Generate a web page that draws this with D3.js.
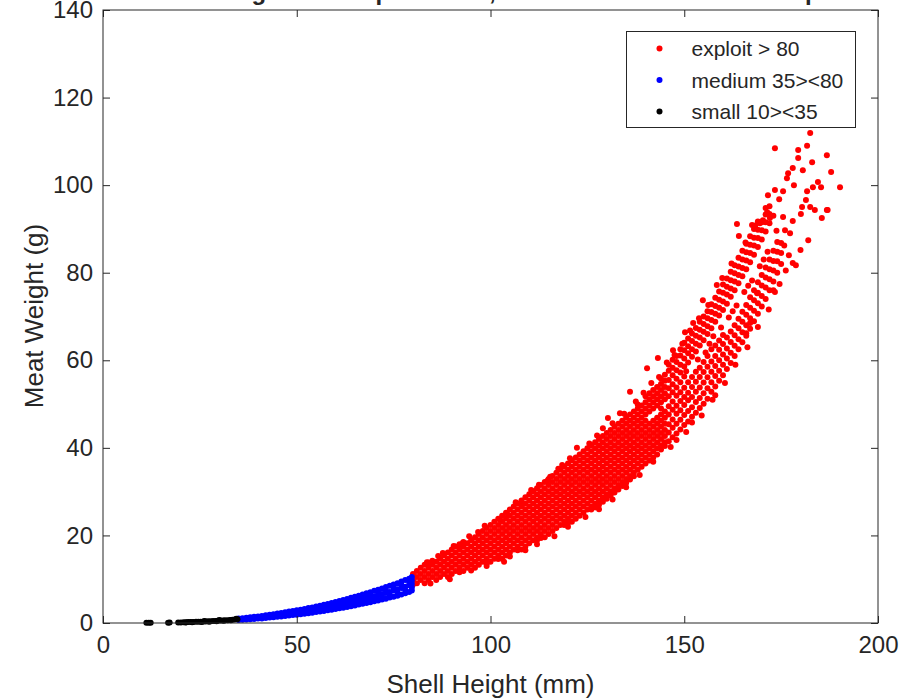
<!DOCTYPE html>
<html>
<head>
<meta charset="utf-8">
<script src="https://cdn.jsdelivr.net/npm/d3@7"></script>
<style>
  html, body { margin: 0; padding: 0; background: #fff; }
  svg { display: block; }
  text { font-family: "Liberation Sans", Arial, Helvetica, sans-serif; fill: #262626; }
</style>
</head>
<body>
<div id="chart"></div>
<script>
// axis ticks and labels
const xTicks = [0, 50, 100, 150, 200];
const yTicks = [0, 20, 40, 60, 80, 100, 120, 140];
const titleText = "Meat Weight of Sampled Shell, Classified into 3 Size Groups";
const xLabel = "Shell Height (mm)";
const yLabel = "Meat Weight (g)";
const legendLabels = ["exploit > 80", "medium 35><80", "small 10><35"];
const seriesColors = ["#ff0000", "#0000ff", "#000000"];

// small 10><35 : [shell height, meat weight]
const smallPts = [
  [11.2, 0.03], [11.8, 0.04], [12.3, 0.05], [16.8, 0.08], [17.2, 0.09], [19.4, 0.12],
  [20.1, 0.13], [20.8, 0.15], [21.3, 0.1], [21.5, 0.17], [22.0, 0.2], [22.6, 0.2],
  [23.0, 0.15], [23.3, 0.24], [24.0, 0.26], [24.6, 0.28], [25.2, 0.3], [25.5, 0.22],
  [25.9, 0.33], [26.2, 0.45], [26.5, 0.36], [27.1, 0.38], [27.4, 0.3], [27.8, 0.42],
  [28.4, 0.45], [29.0, 0.47], [29.3, 0.4], [29.6, 0.5], [30.0, 0.7], [30.3, 0.55],
  [30.9, 0.58], [31.2, 0.5], [31.5, 0.62], [32.2, 0.65], [32.8, 0.7], [33.0, 0.6],
  [33.4, 0.74], [34.0, 0.78], [34.4, 0.95], [34.7, 0.83]
];

// medium 35><80 : rows of [shell height, [meat weights]]
const mediumRows = [
  [35, [0.7, 1.0]], [36, [0.75, 1.1]], [37, [0.8, 1.2]], [38, [0.85, 1.3]],
  [39, [0.9, 1.4]], [40, [1.0, 1.5]], [41, [1.05, 1.6]], [42, [1.15, 1.75]],
  [43, [1.25, 1.9]], [44, [1.3, 2.0]], [45, [1.4, 2.15]], [46, [1.5, 2.3]],
  [47, [1.6, 2.45]], [48, [1.7, 2.6]], [49, [1.8, 2.2, 2.75]], [50, [1.9, 2.4, 2.9]],
  [51, [2.0, 2.5, 3.05]], [52, [2.1, 2.65, 3.2]], [53, [2.25, 2.8, 3.4]], [54, [2.35, 2.95, 3.55]],
  [55, [2.5, 3.1, 3.75]], [56, [2.6, 3.25, 3.95]], [57, [2.75, 3.45, 4.15]], [58, [2.9, 3.6, 4.35]],
  [59, [3.05, 3.8, 4.55]], [60, [3.2, 4.0, 4.8]], [61, [3.35, 4.15, 5.0]], [62, [3.5, 4.35, 5.25]],
  [63, [3.65, 4.55, 5.5]], [64, [3.85, 4.8, 5.75]], [65, [4.0, 5.0, 6.0]], [66, [4.2, 5.2, 6.25]],
  [67, [4.4, 5.45, 6.5]], [68, [4.55, 5.1, 5.65, 6.8]], [69, [4.75, 5.9, 6.4, 7.05]],
  [70, [4.95, 5.5, 6.1, 7.35]], [71, [5.15, 6.35, 6.9, 7.6]], [72, [5.35, 6.0, 6.6, 7.9]],
  [73, [5.55, 6.85, 7.5, 8.2]], [74, [5.8, 6.4, 7.1, 8.5]], [75, [6.0, 7.4, 8.1, 8.8]],
  [76, [6.25, 6.9, 7.7, 9.1]], [77, [6.5, 8.0, 8.7, 9.45]], [78, [6.8, 7.5, 8.3, 9.8]],
  [79, [7.1, 8.6, 9.4, 10.1]], [79.7, [7.4, 8.1, 8.9, 9.7, 10.5]]
];

// exploit > 80 : dense rows of [shell height, [meat weights]]
const exploitRows = [
  [80, [8.8, 9.8, 11.2]], [81, [9.1, 10.5, 11.9]], [82, [9.8, 11.2, 12.6]],
  [83, [9.1, 10.5, 11.9, 13.3]], [84, [9.8, 11.2, 12.6, 13.8]], [85, [10.5, 11.9, 13.3, 14.2]],
  [86, [9.8, 11.2, 12.6, 14.0]], [87, [10.5, 11.9, 13.3, 14.7]], [88, [11.2, 12.6, 14.0, 15.4]],
  [89, [10.5, 11.9, 13.3, 14.7, 16.1]], [90, [11.2, 12.6, 14.0, 15.4, 16.8]],
  [91, [11.9, 13.3, 14.7, 16.1, 17.5]], [92, [11.6, 12.6, 14.0, 15.4, 16.8, 18.0]],
  [93, [11.9, 13.3, 14.7, 16.1, 17.5, 18.5]], [94, [12.6, 14.0, 15.4, 16.8, 18.2]],
  [95, [13.3, 14.7, 16.1, 17.5, 18.9]], [96, [12.6, 14.0, 15.4, 16.8, 18.2, 19.6]],
  [97, [13.3, 14.7, 16.1, 17.5, 18.9, 20.3]], [98, [14.0, 15.4, 16.8, 18.2, 19.6, 21.0]],
  [99, [13.6, 14.7, 16.1, 17.5, 18.9, 20.3, 21.7]], [100, [14.0, 15.4, 16.8, 18.2, 19.6, 21.0, 22.4]],
  [101, [14.7, 16.1, 17.5, 18.9, 20.3, 21.7, 23.1]], [102, [14.6, 15.4, 16.8, 18.2, 19.6, 21.0, 22.4, 23.8]],
  [103, [14.7, 16.1, 17.5, 18.9, 20.3, 21.7, 23.1, 24.5]], [104, [15.4, 16.8, 18.2, 19.6, 21.0, 22.4, 23.8, 25.2]],
  [105, [16.1, 17.5, 18.9, 20.3, 21.7, 23.1, 24.5, 25.9]], [106, [16.8, 18.2, 19.6, 21.0, 22.4, 23.8, 25.2, 26.6]],
  [107, [16.6, 17.5, 18.9, 20.3, 21.7, 23.1, 24.5, 25.9, 27.3]],
  [108, [16.8, 18.2, 19.6, 21.0, 22.4, 23.8, 25.2, 26.6, 28.0]],
  [109, [17.5, 18.9, 20.3, 21.7, 23.1, 24.5, 25.9, 27.3, 28.7]],
  [110, [18.2, 19.6, 21.0, 22.4, 23.8, 25.2, 26.6, 28.0, 29.4]],
  [111, [18.9, 20.3, 21.7, 23.1, 24.5, 25.9, 27.3, 28.7, 30.1]],
  [112, [18.9, 19.6, 21.0, 22.4, 23.8, 25.2, 26.6, 28.0, 29.4, 30.8]],
  [113, [19.4, 20.3, 21.7, 23.1, 24.5, 25.9, 27.3, 28.7, 30.1, 31.5]],
  [114, [19.6, 21.0, 22.4, 23.8, 25.2, 26.6, 28.0, 29.4, 30.8, 32.2]],
  [115, [20.3, 21.7, 23.1, 24.5, 25.9, 27.3, 28.7, 30.1, 31.5, 32.9]],
  [116, [21.0, 22.4, 23.8, 25.2, 26.6, 28.0, 29.4, 30.8, 32.2, 33.6]],
  [117, [21.7, 23.1, 24.5, 25.9, 27.3, 28.7, 30.1, 31.5, 32.9, 34.3]],
  [118, [22.4, 23.8, 25.2, 26.6, 28.0, 29.4, 30.8, 32.2, 33.6, 35.0]],
  [119, [22.4, 23.1, 24.5, 25.9, 27.3, 28.7, 30.1, 31.5, 32.9, 34.3, 35.7]],
  [120, [22.9, 23.8, 25.2, 26.6, 28.0, 29.4, 30.8, 32.2, 33.6, 35.0, 36.4]],
  [121, [23.1, 24.5, 25.9, 27.3, 28.7, 30.1, 31.5, 32.9, 34.3, 35.7, 37.1]],
  [122, [23.8, 25.2, 26.6, 28.0, 29.4, 30.8, 32.2, 33.6, 35.0, 36.4, 37.8]],
  [123, [24.5, 25.9, 27.3, 28.7, 30.1, 31.5, 32.9, 34.3, 35.7, 37.1, 38.5]],
  [124, [25.2, 26.6, 28.0, 29.4, 30.8, 32.2, 33.6, 35.0, 36.4, 37.8, 39.2]],
  [125, [25.9, 27.3, 28.7, 30.1, 31.5, 32.9, 34.3, 35.7, 37.1, 38.5, 39.9]],
  [126, [25.9, 26.6, 28.0, 29.4, 30.8, 32.2, 33.6, 35.0, 36.4, 37.8, 39.2, 40.6]],
  [127, [26.4, 27.3, 28.7, 30.1, 31.5, 32.9, 34.3, 35.7, 37.1, 38.5, 39.9, 41.3]],
  [128, [27.0, 28.0, 29.4, 30.8, 32.2, 33.6, 35.0, 36.4, 37.8, 39.2, 40.6, 42.0]],
  [129, [27.7, 28.7, 30.1, 31.5, 32.9, 34.3, 35.7, 37.1, 38.5, 39.9, 41.3, 42.7]],
  [130, [28.4, 29.4, 30.8, 32.2, 33.6, 35.0, 36.4, 37.8, 39.2, 40.6, 42.0, 43.4]],
  [131, [29.1, 30.1, 31.5, 32.9, 34.3, 35.7, 37.1, 38.5, 39.9, 41.3, 42.7, 44.1]],
  [132, [29.8, 30.8, 32.2, 33.6, 35.0, 36.4, 37.8, 39.2, 40.6, 42.0, 43.4, 44.8]],
  [133, [30.5, 31.5, 32.9, 34.3, 35.7, 37.1, 38.5, 39.9, 41.3, 42.7, 44.1, 45.5]],
  [134, [31.3, 32.2, 33.6, 35.0, 36.4, 37.8, 39.2, 40.6, 42.0, 43.4, 44.8, 46.2]],
  [135, [32.0, 32.9, 34.3, 35.7, 37.1, 38.5, 39.9, 41.3, 42.7, 44.1, 45.5, 46.9]],
  [136, [32.8, 33.6, 35.0, 36.4, 37.8, 39.2, 40.6, 42.0, 43.4, 44.8, 46.2, 47.6]],
  [137, [33.5, 34.3, 35.7, 37.1, 38.5, 39.9, 41.3, 42.7, 44.1, 45.5, 46.9, 48.3]],
  [138, [35.0, 36.4, 37.8, 39.2, 40.6, 42.0, 43.4, 44.8, 46.2, 47.6, 49.0, 49.9]],
  [139, [35.7, 37.1, 38.5, 39.9, 41.3, 42.7, 44.1, 45.5, 46.9, 48.3, 49.7]],
  [140, [36.4, 37.8, 39.2, 40.6, 42.0, 43.4, 44.8, 46.2, 47.6, 49.0, 50.4, 51.8]],
  [141, [37.1, 38.5, 39.9, 41.3, 42.7, 44.1, 45.5, 48.3, 49.7, 51.1, 52.5]],
  [142, [37.8, 39.2, 40.6, 42.0, 43.4, 44.8, 46.2, 49.0, 50.4, 51.8, 53.2]],
  [143, [38.5, 39.9, 41.3, 42.7, 44.1, 45.5, 46.9, 49.7, 51.1, 52.5, 53.9]],
  [144, [39.6, 40.6, 42.0, 43.4, 44.8, 46.2, 47.6, 49.0, 50.4, 51.8, 53.2, 54.6, 55.8]],
  [145, [40.4, 41.3, 42.7, 44.1, 45.5, 46.9, 48.3, 51.1, 52.5, 53.9, 55.3, 56.7]],
  [146, [41.5, 43.5, 45.4, 47.6, 49.5, 51.8, 53.6, 55.5, 57.6, 59.0]],
  [147, [42.4, 44.6, 46.5, 48.7, 50.6, 52.7, 54.5, 56.6, 58.3, 60.1]],
  [148, [43.3, 45.5, 47.8, 49.6, 51.9, 53.8, 55.8, 57.7, 59.6, 61.0]],
  [149, [44.2, 46.4, 48.6, 50.7, 52.7, 55.0, 57.2, 59.0, 61.1, 62.5]],
  [150, [45.2, 47.5, 49.8, 51.6, 53.7, 56.3, 58.6, 60.4, 62.3, 64.0]],
  [151, [46.0, 48.4, 50.9, 52.6, 55.0, 59.5, 61.6, 63.2, 65.0]],
  [152, [47.1, 49.3, 51.6, 53.9, 56.2, 60.8, 62.5, 64.4, 66.1]],
  [153, [48.0, 50.5, 52.8, 55.1, 57.4, 62.0, 63.8, 65.6, 67.4]],
  [154, [49.1, 51.4, 53.8, 56.2, 58.3, 63.4, 65.2, 67.0, 68.8]],
  [155, [50.1, 52.5, 54.9, 57.3, 59.6, 64.6, 66.5, 68.3, 70.0]],
  [156, [51.2, 53.6, 56.1, 58.5, 61.0, 66.0, 67.8, 69.6, 71.2]],
  [157, [52.8, 55.0, 57.4, 59.7, 62.5, 67.3, 69.2, 71.0, 72.8]],
  [158, [54.0, 56.4, 58.7, 61.0, 63.4, 68.8, 70.6, 72.4, 74.3]],
  [159, [55.3, 57.6, 60.0, 62.4, 64.5, 70.2, 72.0, 73.8, 75.7]],
  [160, [56.6, 59.0, 61.3, 63.7, 65.8, 71.5, 73.4, 75.4, 77.3]],
  [161, [58.0, 60.4, 62.7, 65.2, 72.9, 75.0, 76.8, 78.7]],
  [162, [59.4, 61.7, 64.2, 66.6, 74.5, 76.4, 78.3, 80.2]],
  [163, [61.0, 63.3, 65.7, 68.0, 76.0, 78.0, 79.9, 81.7]],
  [164, [62.5, 64.8, 67.3, 69.5, 77.6, 79.5, 81.4, 83.4]],
  [165, [64.1, 66.4, 68.8, 71.1, 79.2, 81.1, 83.0, 85.0]],
  [166, [65.6, 68.0, 70.4, 72.6, 80.8, 82.8, 84.7, 86.6]],
  [167, [67.2, 69.6, 72.0, 74.4, 82.4, 84.5, 86.4, 88.3]],
  [168, [68.9, 71.3, 73.7, 76.0, 84.1, 86.2, 88.0, 90.0]],
  [169, [70.6, 73.0, 75.4, 77.8, 85.9, 87.9, 89.8, 91.7]],
  [170, [72.3, 74.7, 77.1, 79.5, 87.6, 89.7, 91.5]],
  [171, [74.0, 76.6, 78.9, 81.2, 89.4, 91.5, 93.3]],
  [172, [76.0, 78.5, 80.8, 83.0, 91.3, 93.4, 95.2]],
  [173, [78.0, 80.5, 82.7, 85.0, 93.0]],
  [174, [80.0, 82.6, 84.8, 87.0]],
  [175, [82.0, 84.5, 86.8]]
];

// exploit > 80 : scattered points off the main band
const exploitSparse = [
  [83.6, 13.9], [87.7, 16.0], [92.9, 18.3], [96.8, 20.8], [102.5, 23.5], [104.5, 24.7],
  [108.1, 26.9], [114.8, 32.6], [115.4, 33.4], [118.5, 36.1], [122.3, 40.0], [129.0, 44.5],
  [130.3, 46.8], [133.4, 47.9], [136.0, 52.8], [140.4, 58.2], [143.2, 60.5], [147.1, 62.3],
  [150.2, 66.4], [152.3, 68.5], [154.8, 73.7], [158.4, 77.2],
  [95.0, 12.0], [105.0, 15.2], [112.0, 18.0], [120.0, 22.0], [128.0, 26.0], [135.0, 31.0],
  [142.0, 36.8], [148.0, 41.8], [152.0, 45.8], [158.0, 52.0],
  [182.5, 111.9], [173.4, 108.4], [181.7, 109.0], [179.4, 108.0], [186.8, 106.8], [183.0, 105.2],
  [179.4, 106.2], [176.8, 102.7], [180.6, 103.4], [187.9, 103.0], [178.0, 103.9], [176.5, 101.6],
  [190.2, 99.5], [184.5, 100.7], [185.3, 99.5], [183.2, 99.5], [181.7, 98.6], [178.3, 100.0],
  [173.4, 98.9], [175.5, 98.6], [171.6, 97.7], [174.5, 96.8], [181.4, 96.6], [180.4, 95.0],
  [182.5, 95.0], [183.7, 94.3], [187.0, 94.3], [185.5, 92.5], [180.1, 93.4], [178.0, 91.8],
  [175.5, 92.7], [171.4, 93.8], [172.1, 92.5], [170.3, 92.0], [163.6, 91.1], [164.1, 88.4],
  [167.5, 90.9], [169.5, 91.3], [182.0, 87.4], [180.0, 85.2], [178.0, 82.2], [178.8, 81.7],
  [173.4, 75.6], [177.3, 89.0], [186.8, 94.3], [173.0, 76.0], [168.8, 75.3], [167.0, 68.5],
  [166.0, 66.2], [176.0, 89.7],
  // between and around the two upper strands
  [150.5, 57.5], [153.5, 60.2], [156.5, 63.8], [159.5, 67.5], [161.5, 69.8], [163.5, 72.5],
  [165.5, 75.6], [167.5, 78.2], [169.5, 81.5], [171.5, 84.8], [157.5, 65.5], [162.5, 71.2],
  [166.5, 77.0], [170.5, 83.0], [155.5, 61.8], [145.5, 59.5], [147.5, 61.2], [149.5, 63.8],
  [151.5, 66.8], [153.8, 69.6], [156.2, 72.6], [159.8, 78.8], [162.2, 82.1], [165.8, 86.9],
  [168.3, 90.8], [171.0, 94.8], [146.5, 40.2], [150.5, 43.6], [154.5, 47.4], [157.3, 51.0],
  [160.5, 54.8], [163.2, 59.0], [166.3, 63.0], [169.0, 67.6], [171.8, 71.6], [174.6, 77.4],
  [176.2, 80.5], [175.8, 86.2], [177.0, 84.0], [173.8, 89.6],
  // ragged edges of the dense band
  [84.5, 9.0], [89.5, 10.0], [99.0, 13.0], [103.5, 14.0], [109.0, 16.6], [116.5, 19.8],
  [124.5, 24.2], [131.5, 28.2], [138.5, 33.8],
  [86.5, 15.3], [90.5, 17.6], [94.5, 19.8], [98.5, 22.2], [106.5, 27.6], [110.5, 30.4],
  [112.5, 31.6], [117.5, 35.2], [120.5, 37.6], [125.5, 41.0], [127.5, 42.8], [131.5, 45.6],
  [134.5, 47.8], [137.5, 50.6], [139.5, 52.6], [141.5, 54.8], [143.5, 56.2]
];

const W = 917, H = 700;
const x = d3.scaleLinear().domain([0, 200]).range([103, 878]);
const y = d3.scaleLinear().domain([0, 140]).range([623, 10]);
const fontFamily = '"Liberation Sans", Arial, Helvetica, sans-serif';
const dotR = 3;

const svg = d3.select("#chart").append("svg")
  .attr("width", W)
  .attr("height", H);

const expand = (rows) => rows.flatMap(([sx, ws]) => ws.map((w) => [sx, w]));
const series = [
  expand(exploitRows).concat(exploitSparse),
  expand(mediumRows),
  smallPts
];

// points
series.forEach((pts, i) => {
  svg.append("g")
    .selectAll("circle")
    .data(pts)
    .join("circle")
    .attr("cx", (d) => x(d[0]))
    .attr("cy", (d) => y(d[1]))
    .attr("r", dotR)
    .attr("fill", seriesColors[i]);
});

// axes (MATLAB style: ticks inward on all four sides)
const styleAxis = (g) => {
  g.attr("font-family", fontFamily).attr("font-size", 24);
  g.select(".domain").remove();
  g.selectAll(".tick line").attr("stroke", "#262626");
  g.selectAll(".tick text").attr("fill", "#262626");
};

svg.append("g")
  .attr("transform", "translate(0,623)")
  .call(d3.axisBottom(x).tickValues(xTicks).tickSize(-7).tickPadding(13))
  .call(styleAxis);

svg.append("g")
  .attr("transform", "translate(0,10)")
  .call(d3.axisTop(x).tickValues(xTicks).tickSize(-7).tickFormat(""))
  .call(styleAxis);

svg.append("g")
  .attr("transform", "translate(103,0)")
  .call(d3.axisLeft(y).tickValues(yTicks).tickSize(-7).tickPadding(10))
  .call(styleAxis);

svg.append("g")
  .attr("transform", "translate(878,0)")
  .call(d3.axisRight(y).tickValues(yTicks).tickSize(-7).tickFormat(""))
  .call(styleAxis);

svg.append("rect")
  .attr("x", 103)
  .attr("y", 10)
  .attr("width", 775)
  .attr("height", 613)
  .attr("fill", "none")
  .attr("stroke", "#262626")
  .attr("stroke-width", 1);

// title (sits mostly above the visible area)
svg.append("text")
  .attr("x", 490.5)
  .attr("y", 0)
  .attr("text-anchor", "middle")
  .attr("font-size", 24)
  .attr("font-weight", "bold")
  .attr("font-family", fontFamily)
  .attr("fill", "#000")
  .text(titleText);

// axis labels
svg.append("text")
  .attr("x", 490.5)
  .attr("y", 693)
  .attr("text-anchor", "middle")
  .attr("font-size", 26)
  .attr("font-family", fontFamily)
  .text(xLabel);

svg.append("text")
  .attr("transform", "translate(43,316) rotate(-90)")
  .attr("text-anchor", "middle")
  .attr("font-size", 26)
  .attr("font-family", fontFamily)
  .text(yLabel);

// legend
const legend = svg.append("g").attr("transform", "translate(626.5,31.5)");
legend.append("rect")
  .attr("width", 229)
  .attr("height", 96)
  .attr("fill", "#fff")
  .attr("stroke", "#262626")
  .attr("stroke-width", 1);

const rowY = d3.scalePoint().domain(legendLabels).range([17, 80]);
legendLabels.forEach((lab, i) => {
  legend.append("circle")
    .attr("cx", 33)
    .attr("cy", rowY(lab))
    .attr("r", dotR)
    .attr("fill", seriesColors[i]);
  legend.append("text")
    .attr("x", 65)
    .attr("y", rowY(lab) + 7.5)
    .attr("font-size", 21)
    .attr("font-family", fontFamily)
    .text(lab);
});
</script>
</body>
</html>
